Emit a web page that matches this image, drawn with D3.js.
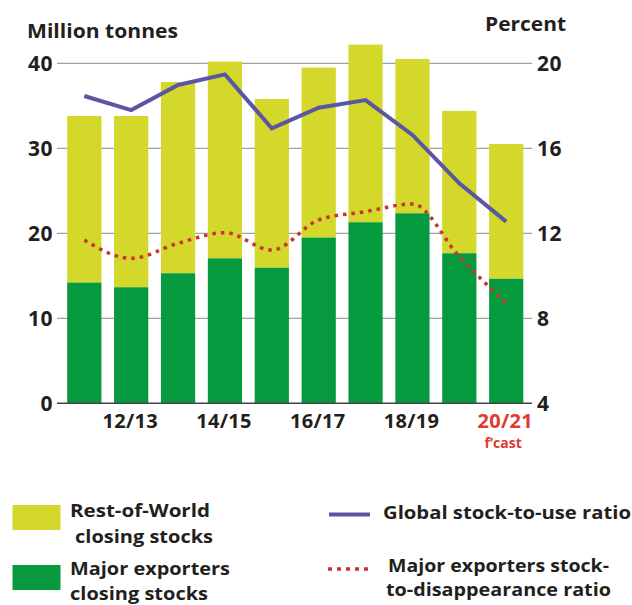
<!DOCTYPE html>
<html><head><meta charset="utf-8">
<script src="https://cdn.jsdelivr.net/npm/d3@7"></script>
<style>
body{margin:0;background:#fff;}
text{font-family:"Open Sans",sans-serif;font-weight:700;fill:#231f20;}
</style></head><body>
<svg id="c" width="632" height="605"></svg>
<script>
const seasons = ["11/12","12/13","13/14","14/15","15/16","16/17","17/18","18/19","19/20","20/21"];
const majorExporters = [14.2,13.65,15.3,17.05,15.95,19.5,21.3,22.35,17.65,14.65];
const restOfWorld = [19.6,20.15,22.5,23.15,19.85,20.0,20.9,18.15,16.75,15.85];
const globalRatio = [18.46,17.8,18.98,19.48,16.94,17.91,18.27,16.63,14.35,12.55];
const majorRatio = [11.68,10.82,11.53,12.03,11.21,12.63,13.02,13.38,10.9,8.71];
const leftTicks = [0,10,20,30,40];
const rightTicks = [4,8,12,16,20];
const xLabels = ["12/13","14/15","16/17","18/19","20/21"];

const svg = d3.select("#c");
const x = d3.scaleBand().domain(seasons).range([62.5,528]).paddingInner(0.27).paddingOuter(0.1);
const yL = d3.scaleLinear().domain([0,40]).range([403.3,63.3]);
const yR = d3.scaleLinear().domain([4,20]).range([403.3,63.3]);

// gridlines
svg.append("g").selectAll("line").data(leftTicks.slice(1)).join("line")
  .attr("x1",57).attr("x2",532).attr("y1",d=>yL(d)).attr("y2",d=>yL(d))
  .attr("stroke","#8a8a8a").attr("stroke-width",1);

// bars
const stack = seasons.map((s,i)=>({s, m:majorExporters[i], r:restOfWorld[i]}));
svg.append("g").selectAll("rect").data(stack).join("rect")
  .attr("x",d=>x(d.s)).attr("width",x.bandwidth())
  .attr("y",d=>yL(d.m+d.r)).attr("height",d=>yL(d.m)-yL(d.m+d.r))
  .attr("fill","#d4d82b");
svg.append("g").selectAll("rect").data(stack).join("rect")
  .attr("x",d=>x(d.s)).attr("width",x.bandwidth())
  .attr("y",d=>yL(d.m)).attr("height",d=>yL(0)-yL(d.m))
  .attr("fill","#069a3e");

// axis base line
svg.append("line").attr("x1",57).attr("x2",532).attr("y1",yL(0)).attr("y2",yL(0))
  .attr("stroke","#444").attr("stroke-width",1.5);

// tick labels
svg.append("g").selectAll("text").data(leftTicks).join("text")
  .attr("x",53).attr("y",d=>yL(d)).attr("dy","0.36em").attr("text-anchor","end")
  .attr("font-size",21).attr("letter-spacing",0.5).text(d=>d);
svg.append("g").selectAll("text").data(rightTicks).join("text")
  .attr("x",537).attr("y",d=>yR(d)).attr("dy","0.36em").attr("text-anchor","start")
  .attr("font-size",21).attr("letter-spacing",0.5).text(d=>d);

svg.append("text").attr("x",27).attr("y",38).attr("font-size",20).attr("textLength",151).attr("lengthAdjust","spacingAndGlyphs").text("Million tonnes");
svg.append("text").attr("x",485).attr("y",31).attr("font-size",20).attr("textLength",81).attr("lengthAdjust","spacingAndGlyphs").text("Percent");

// x labels
svg.append("g").selectAll("text").data(xLabels).join("text")
  .attr("x",d=>x(d)+x.bandwidth()/2-1).attr("y",428).attr("text-anchor","middle")
  .attr("font-size",20).attr("letter-spacing",0.3)
  .style("fill",d=>d==="20/21"?"#e03a32":"#231f20").text(d=>d);
svg.append("text").attr("x",x("20/21")+x.bandwidth()/2-3).attr("y",448).attr("text-anchor","middle")
  .attr("font-size",14).style("fill","#e03a32").text("f\u2019cast");

const cx = d => x(d)+x.bandwidth()/2;
// lines
svg.append("path").datum(seasons.map((s,i)=>[cx(s),yR(globalRatio[i])]))
  .attr("d",d3.line()).attr("fill","none").attr("stroke","#5b56a3").attr("stroke-width",4);
svg.append("path").datum(seasons.map((s,i)=>[cx(s),yR(majorRatio[i])]))
  .attr("d",d3.line().curve(d3.curveMonotoneX)).attr("fill","none").attr("stroke","#cc3330")
  .attr("stroke-width",3.5).attr("stroke-dasharray","3.5,5");

// legend
const lg = svg.append("g");
lg.append("rect").attr("x",12.5).attr("y",505).attr("width",48).attr("height",25).attr("fill","#d4d82b");
lg.append("rect").attr("x",12.5).attr("y",565).attr("width",48).attr("height",25).attr("fill","#069a3e");
const lt = [[70,517,"Rest-of-World",140],[75,543,"closing stocks",138],[70,575,"Major exporters",160],[70,600,"closing stocks",138],
  [383,519,"Global stock-to-use ratio",248],[388,572,"Major exporters stock-",221],[386,596,"to-disappearance ratio",225]];
lg.selectAll("text").data(lt).join("text").attr("x",d=>d[0]).attr("y",d=>d[1])
  .attr("font-size",18.5).attr("textLength",d=>d[3]).attr("lengthAdjust","spacingAndGlyphs").text(d=>d[2]);
lg.append("line").attr("x1",329).attr("x2",370).attr("y1",514.5).attr("y2",514.5).attr("stroke","#5b56a3").attr("stroke-width",4);
lg.append("line").attr("x1",328).attr("x2",372).attr("y1",569).attr("y2",569).attr("stroke","#cc3330")
  .attr("stroke-width",3.5).attr("stroke-dasharray","4,5");
</script></body></html>
